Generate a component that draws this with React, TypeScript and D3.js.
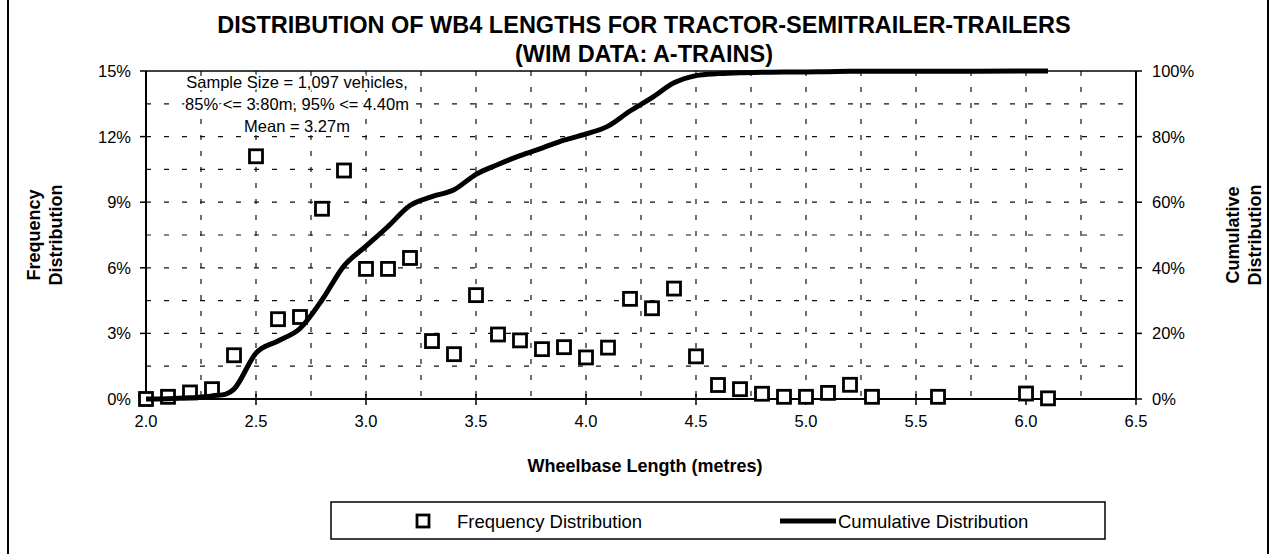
import React from "react";
import * as d3 from "d3";

// wheelbase bins (m)
const lengths = [
  2.0, 2.1, 2.2, 2.3, 2.4, 2.5, 2.6, 2.7, 2.8, 2.9, 3.0, 3.1, 3.2, 3.3, 3.4,
  3.5, 3.6, 3.7, 3.8, 3.9, 4.0, 4.1, 4.2, 4.3, 4.4, 4.5, 4.6, 4.7, 4.8, 4.9,
  5.0, 5.1, 5.2, 5.3, 5.6, 6.0, 6.1,
];
// frequency distribution (%), left axis
const frequency = [
  0.0, 0.1, 0.3, 0.45, 2.0, 11.1, 3.65, 3.75, 8.7, 10.45, 5.95, 5.95, 6.45,
  2.65, 2.05, 4.75, 2.95, 2.68, 2.28, 2.37, 1.9, 2.35, 4.58, 4.15, 5.05, 1.95,
  0.64, 0.45, 0.24, 0.1, 0.1, 0.28, 0.65, 0.1, 0.1, 0.25, 0.03,
];
// cumulative distribution (%), right axis
const cumulative = [
  0.0, 0.1, 0.4, 0.9, 3.0, 14.0, 17.7, 21.5, 30.2, 40.6, 46.6, 52.6, 59.0,
  61.7, 63.8, 68.5, 71.5, 74.2, 76.5, 78.9, 80.8, 83.2, 87.8, 91.9, 96.4, 98.6,
  99.2, 99.5, 99.6, 99.7, 99.7, 99.8, 99.9, 99.9, 99.9, 100, 100,
];

const xTicks = [2.0, 2.5, 3.0, 3.5, 4.0, 4.5, 5.0, 5.5, 6.0, 6.5];
const leftTicks = [0, 3, 6, 9, 12, 15];
const rightTicks = [0, 20, 40, 60, 80, 100];
const xGrid = d3.range(2.25, 6.5, 0.25);
const yGrid = d3.range(1.5, 15, 1.5);

const title = [
  "DISTRIBUTION OF WB4 LENGTHS FOR TRACTOR-SEMITRAILER-TRAILERS",
  "(WIM DATA: A-TRAINS)",
];
const notes = [
  "Sample Size = 1,097 vehicles,",
  "85% <= 3.80m, 95% <= 4.40m",
  "Mean = 3.27m",
];

const W = 1275;
const H = 554;
const left = 146;
const right = 1136;
const top = 71;
const bottom = 399;
const font = "'Liberation Sans', Arial, Helvetica, sans-serif";

export default function App() {
  const x = d3.scaleLinear().domain([2, 6.5]).range([left, right]);
  const y = d3.scaleLinear().domain([0, 15]).range([bottom, top]);
  const y2 = d3.scaleLinear().domain([0, 100]).range([bottom, top]);

  const line = d3
    .line<number>()
    .x((_, i) => x(lengths[i]))
    .y((d) => y2(d))
    .curve(d3.curveCardinal.tension(0));

  const sq = 13;

  return (
    <svg
      width={W}
      height={H}
      style={{ position: "absolute", left: 0, top: 0, background: "#fff" }}
      fontFamily={font}
    >
      {/* frame sides */}
      <line x1={8} x2={8} y1={0} y2={H} stroke="#000" strokeWidth={2} />
      <line x1={1268} x2={1268} y1={0} y2={H} stroke="#000" strokeWidth={2} />

      {/* title */}
      {title.map((t, i) => (
        <text
          key={t}
          x={644}
          y={33 + i * 29}
          textAnchor="middle"
          fontSize={23.5}
          fontWeight="bold"
        >
          {t}
        </text>
      ))}

      {/* grid */}
      {xGrid.map((g) => (
        <line
          key={"gx" + g}
          x1={x(g)}
          x2={x(g)}
          y1={top}
          y2={bottom}
          stroke="#111"
          strokeWidth={1.2}
          strokeDasharray="5,11"
        />
      ))}
      {yGrid.map((g) => (
        <line
          key={"gy" + g}
          x1={left}
          x2={right}
          y1={y(g)}
          y2={y(g)}
          stroke="#111"
          strokeWidth={1.2}
          strokeDasharray="5,13"
        />
      ))}

      {/* plot frame / axes */}
      <line x1={left} x2={right} y1={top} y2={top} stroke="#000" strokeWidth={1.5} />
      <line x1={left} x2={right} y1={bottom} y2={bottom} stroke="#000" strokeWidth={2} />
      <line x1={left} x2={left} y1={top} y2={bottom} stroke="#000" strokeWidth={2} />
      <line x1={right} x2={right} y1={top} y2={bottom} stroke="#000" strokeWidth={2} />

      {/* annotation */}
      {notes.map((n, i) => (
        <text
          key={n}
          x={297}
          y={88 + i * 22}
          textAnchor="middle"
          fontSize={16.5}
          stroke="#fff"
          strokeWidth={4}
          paintOrder="stroke"
          fill="#000"
        >
          {n}
        </text>
      ))}

      {/* left axis */}
      {leftTicks.map((t) => (
        <g key={"l" + t}>
          <line x1={left - 6} x2={left} y1={y(t)} y2={y(t)} stroke="#000" strokeWidth={1.5} />
          <text x={131} y={y(t)} dy="0.36em" textAnchor="end" fontSize={16.5}>
            {t + "%"}
          </text>
        </g>
      ))}
      {/* right axis */}
      {rightTicks.map((t) => (
        <g key={"r" + t}>
          <line x1={right} x2={right + 6} y1={y2(t)} y2={y2(t)} stroke="#000" strokeWidth={1.5} />
          <text x={1152} y={y2(t)} dy="0.36em" fontSize={16.5}>
            {t + "%"}
          </text>
        </g>
      ))}
      {/* x axis */}
      {xTicks.map((t) => (
        <g key={"x" + t}>
          <line x1={x(t)} x2={x(t)} y1={bottom - 5} y2={bottom + 6} stroke="#000" strokeWidth={1.5} />
          <text x={x(t)} y={421} dy="0.36em" textAnchor="middle" fontSize={16.5}>
            {d3.format(".1f")(t)}
          </text>
        </g>
      ))}

      {/* axis titles */}
      <text
        transform="translate(51,235) rotate(-90)"
        textAnchor="middle"
        fontSize={18}
        fontWeight="bold"
      >
        <tspan x={0} dy={-11}>Frequency</tspan>
        <tspan x={0} dy={22}>Distribution</tspan>
      </text>
      <text
        transform="translate(1250,235) rotate(-90)"
        textAnchor="middle"
        fontSize={18}
        fontWeight="bold"
      >
        <tspan x={0} dy={-11}>Cumulative</tspan>
        <tspan x={0} dy={22}>Distribution</tspan>
      </text>
      <text x={645} y={472} textAnchor="middle" fontSize={18} fontWeight="bold">
        Wheelbase Length (metres)
      </text>

      {/* frequency markers */}
      {frequency.map((f, i) => (
        <rect
          key={"p" + i}
          x={x(lengths[i]) - sq / 2}
          y={y(f) - sq / 2}
          width={sq}
          height={sq}
          fill="#fff"
          stroke="#000"
          strokeWidth={2.8}
        />
      ))}

      {/* cumulative line */}
      <path d={line(cumulative) || ""} fill="none" stroke="#000" strokeWidth={5} />

      {/* legend */}
      <rect x={331} y={502} width={774} height={37} fill="#fff" stroke="#000" strokeWidth={1.5} />
      <rect x={417} y={515} width={12} height={12} fill="#fff" stroke="#000" strokeWidth={2.8} />
      <text x={457} y={521} dy="0.36em" fontSize={18.5}>
        Frequency Distribution
      </text>
      <line x1={780} x2={836} y1={521} y2={521} stroke="#000" strokeWidth={5} />
      <text x={838} y={521} dy="0.36em" fontSize={18.5}>
        Cumulative Distribution
      </text>
    </svg>
  );
}
